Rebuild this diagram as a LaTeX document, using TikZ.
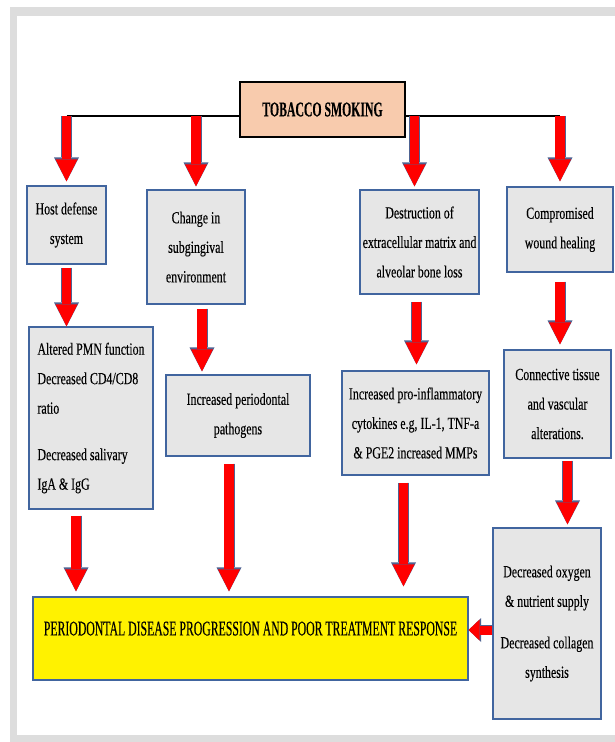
\documentclass[tikz,border=0pt]{standalone}
\usepackage{fontspec}
\setmainfont{Liberation Serif}
\newfontfamily\boxfont{Liberation Serif}[FakeStretch=0.7, FakeBold=0.2]
\newfontfamily\capfont{Liberation Serif}[FakeStretch=0.56, FakeBold=0.2]
\usetikzlibrary{arrows.meta}
\definecolor{framegray}{HTML}{DDDDDD}
\definecolor{boxfill}{HTML}{E6E6E6}
\definecolor{boxline}{HTML}{41659F}
\definecolor{peach}{HTML}{F8CBAD}
\definecolor{arrowline}{HTML}{4F6392}

\begin{document}
\begin{tikzpicture}[x=1pt, y=-1pt,
    box/.style={draw=boxline, line width=1.2pt, fill=boxfill, align=center, inner sep=0pt,
        font=\boxfont\fontsize{17}{29.5}\selectfont},
    title/.style={draw=black, line width=1.5pt, fill=peach, inner sep=0pt,
        font=\capfont\bfseries\fontsize{21}{25}\selectfont},
    busline/.style={draw=black, line width=1.5pt},
    bigarrow/.style={red, line width=9.5pt, -{Triangle[width=22pt,length=22pt,line width=0pt]},
        preaction={draw=arrowline, line width=11pt, -{Triangle[width=25pt,length=24pt,line width=0pt]}}},
    sidearrow/.style={red, line width=9pt, -{Triangle[width=21pt,length=11pt,line width=0pt]},
        preaction={draw=arrowline, line width=10.5pt, -{Triangle[width=24pt,length=12.5pt,line width=0pt]}}}]
    \useasboundingbox (0,0) rectangle (615,742);
    \fill[framegray] (10,7) rectangle (615,742);
    \fill[white] (17,16) rectangle (615,735);

    \node[title, minimum width=165pt, minimum height=55pt] (smoke) at (322.5,109.5) {TOBACCO SMOKING};
    \coordinate (bus) at (0,116);

    \node[box, minimum width=79pt, minimum height=78pt] (hds) at (66.5,225) {Host defense\\system};
    \node[box, minimum width=98pt, minimum height=114pt] (chg) at (196,247) {Change in\\subgingival\\environment};
    \node[box, minimum width=119pt, minimum height=104pt] (ecm) at (419.5,242) {Destruction of\\extracellular matrix and\\alveolar bone loss};
    \node[box, minimum width=106pt, minimum height=85pt] (wnd) at (560,229.5) {Compromised\\wound healing};

    \node[box, align=left, minimum width=124pt, minimum height=182pt] (pmn) at (91,418) {Altered PMN function\\Decreased CD4/CD8\\ratio\\[17pt]Decreased salivary\\IgA \& IgG};
    \node[box, minimum width=144pt, minimum height=81pt] (pth) at (238,415.5) {Increased periodontal\\pathogens};
    \node[box, minimum width=147pt, minimum height=104pt] (cyt) at (415.5,423) {Increased pro-inflammatory\\cytokines e.g, IL-1, TNF-a\\\& PGE2 increased MMPs};
    \node[box, minimum width=107pt, minimum height=108pt] (ctv) at (557.5,404) {Connective tissue\\and vascular\\alterations.};

    \node[box, minimum width=108pt, minimum height=191pt] (oxy) at (547,623.5) {Decreased oxygen\\\& nutrient supply\\[12pt]Decreased collagen\\synthesis};
    \node[box, fill=yellow, minimum width=435pt, minimum height=83pt, text depth=20pt,
        font=\capfont\fontsize{21}{25}\selectfont] (pdp) at (250.5,638.5) {PERIODONTAL DISEASE PROGRESSION AND POOR TREATMENT RESPONSE};

    \draw[busline] (hds |- bus) -- (smoke.west |- bus);
    \draw[busline] (smoke.east |- bus) -- (wnd |- bus);

    \coordinate (e1) at ([xshift=-5pt]ecm.north);
    \coordinate (e2) at ([xshift=-3pt]ecm.south);
    \coordinate (c2) at ([xshift=6pt]chg.south);
    \draw[bigarrow, shorten >=4pt] (hds |- bus) -- (hds.north);
    \draw[bigarrow, shorten >=3pt] (chg |- bus) -- (chg.north);
    \draw[bigarrow, shorten >=3pt] (e1 |- bus) -- (e1);
    \draw[bigarrow, shorten >=5pt] (wnd |- bus) -- (wnd.north);

    \draw[bigarrow, shorten <=3pt] (hds.south) -- (hds.south |- pmn.north);
    \draw[bigarrow, shorten <=4pt, shorten >=3pt] (c2) -- (c2 |- pth.north);
    \draw[bigarrow, shorten <=7pt, shorten >=6pt] (e2) -- (e2 |- cyt.north);
    \draw[bigarrow, shorten <=9pt, shorten >=5pt] (wnd.south) -- (wnd.south |- ctv.north);

    \coordinate (d1) at ([xshift=-15pt]pmn.south);
    \coordinate (d2) at ([xshift=-9pt]pth.south);
    \coordinate (d3) at ([xshift=-12pt]cyt.south);
    \coordinate (d4) at ([xshift=10pt]ctv.south);
    \coordinate (pin) at ([yshift=8.5pt]pdp.east);
    \draw[bigarrow, shorten <=6pt, shorten >=5pt] (d1) -- (d1 |- pdp.north);
    \draw[bigarrow, shorten <=7pt, shorten >=5pt] (d2) -- (d2 |- pdp.north);
    \draw[bigarrow, shorten <=7pt, shorten >=10pt] (d3) -- (d3 |- pdp.north);
    \draw[bigarrow, shorten <=2pt, shorten >=3pt] (d4) -- (d4 |- oxy.north);
    \draw[sidearrow] (pin -| oxy.west) -- (pin);
\end{tikzpicture}
\end{document}
